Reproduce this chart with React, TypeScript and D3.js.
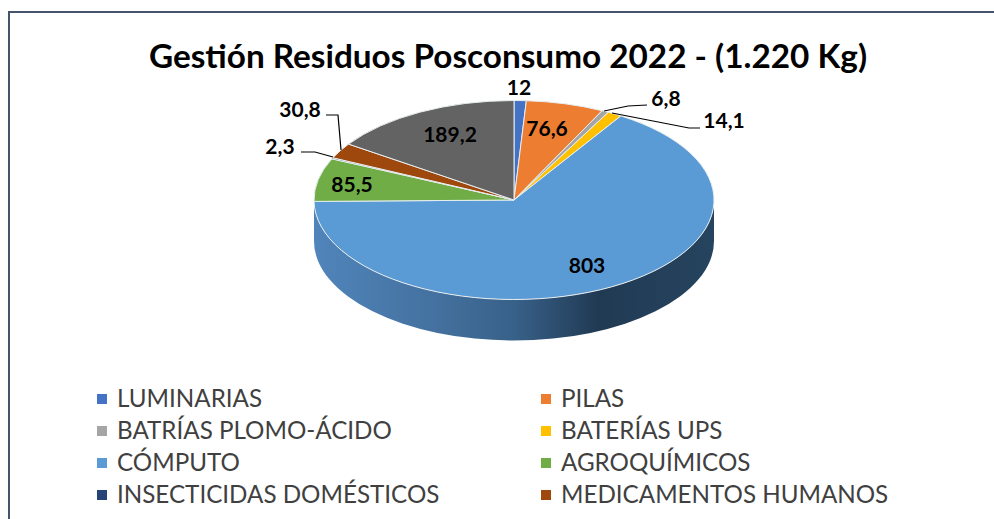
import React from 'react'
import * as d3 from 'd3'

const legendLabels = ['LUMINARIAS', 'PILAS', 'BATRÍAS PLOMO-ÁCIDO', 'BATERÍAS UPS', 'CÓMPUTO', 'AGROQUÍMICOS', 'INSECTICIDAS DOMÉSTICOS', 'MEDICAMENTOS HUMANOS']
const values = [12, 76.6, 6.8, 14.1, 803, 85.5, 2.3, 30.8, 189.2]
const valueLabels = ['12', '76,6', '6,8', '14,1', '803', '85,5', '2,3', '30,8', '189,2']
const colors = ['#4472c4', '#ed7d31', '#a5a5a5', '#ffc000', '#5b9bd5', '#70ad47', '#264478', '#9e480e', '#636363']

const WIDTH = 994
const HEIGHT = 519
const FONT = 'Lato, Carlito, sans-serif'

// pie geometry, flattened to look like the 3d office pie
const cx = 514
const cy = 200
const rx = 200
const ry = 99.5
const depth = 41

// where the value labels sit (centre of text)
const labelPos = [
  [519, 88], [547, 129], [666, 99], [724, 121], [587, 266],
  [352, 185], [280, 147], [300, 110], [450, 135],
]

// leader lines, only for the small slices
const leaders: Record<number, number[][]> = {
  2: [[647, 105], [628, 106], [604, 111]],
  3: [[700, 128], [689, 128], [612, 113]],
  6: [[301, 152], [315, 152], [333, 157]],
  7: [[326, 115], [338, 115], [341, 150]],
}

const sideStops = [
  { offset: '0%', color: '#5085bb' },
  { offset: '30%', color: '#44719f' },
  { offset: '50%', color: '#386189' },
  { offset: '71%', color: '#213a54' },
  { offset: '100%', color: '#26445f' },
]

function App() {
  const pie = d3.pie<number>().sort(null).value((d) => d)
  const arcs = pie(values)
  const arc = d3.arc<d3.PieArcDatum<number>>().innerRadius(0).outerRadius(rx)
  const leaderLine = d3.line()

  const sidePath = `M${cx - rx},${cy} A${rx},${ry} 0 0 0 ${cx + rx},${cy} L${cx + rx},${cy + depth} A${rx},${ry} 0 0 1 ${cx - rx},${cy + depth} Z`

  const legendX = d3.scaleOrdinal<number, number>().domain([0, 1]).range([97, 541])
  const legendY = d3.scaleLinear().domain([0, 3]).range([399, 495])

  return (
    <svg width={WIDTH} height={HEIGHT} viewBox={`0 0 ${WIDTH} ${HEIGHT}`}
      style={{ position: 'absolute', left: 0, top: 0, background: '#fff' }}>
      <defs>
        <linearGradient id="side-gradient" x1="0" y1="0" x2="1" y2="0">
          {sideStops.map((s) => <stop key={s.offset} offset={s.offset} stopColor={s.color} />)}
        </linearGradient>
      </defs>

      {/* outer frame, runs off the picture on the right and bottom */}
      <rect x={9} y={12} width={WIDTH + 20} height={HEIGHT + 20} fill="none" stroke="#44546a" strokeWidth={2} />

      <text x={508} y={68} textAnchor="middle" fontFamily={FONT} fontWeight={700} fontSize={33.3} fill="#000">
        Gestión Residuos Posconsumo 2022 - (1.220 Kg)
      </text>

      <path d={sidePath} fill="url(#side-gradient)" />

      <g transform={`translate(${cx},${cy}) scale(1,${ry / rx})`}>
        {arcs.map((d, i) => (
          <path key={i} d={arc(d) as string} fill={colors[i]} stroke="#e8eef0" strokeWidth={1}
            style={{ vectorEffect: 'non-scaling-stroke' }} />
        ))}
      </g>

      {Object.entries(leaders).map(([k, pts]) => (
        <path key={k} d={leaderLine(pts as [number, number][]) as string} fill="none" stroke="#000" strokeWidth={1.2} />
      ))}

      {valueLabels.map((t, i) => (
        <text key={i} x={labelPos[i][0]} y={labelPos[i][1]} dy="0.35em" textAnchor="middle"
          fontFamily={FONT} fontWeight={700} fontSize={21} fill="#000">{t}</text>
      ))}

      {legendLabels.map((t, i) => {
        const x = legendX(i % 2)
        const y = legendY(Math.floor(i / 2))
        return (
          <g key={t}>
            <rect x={x} y={y - 5} width={10} height={10} fill={colors[i]} />
            <text x={x + 20} y={y} dy="0.35em" fontFamily={FONT} fontSize={24.2} fill="#404040">{t}</text>
          </g>
        )
      })}
    </svg>
  )
}

export default App
